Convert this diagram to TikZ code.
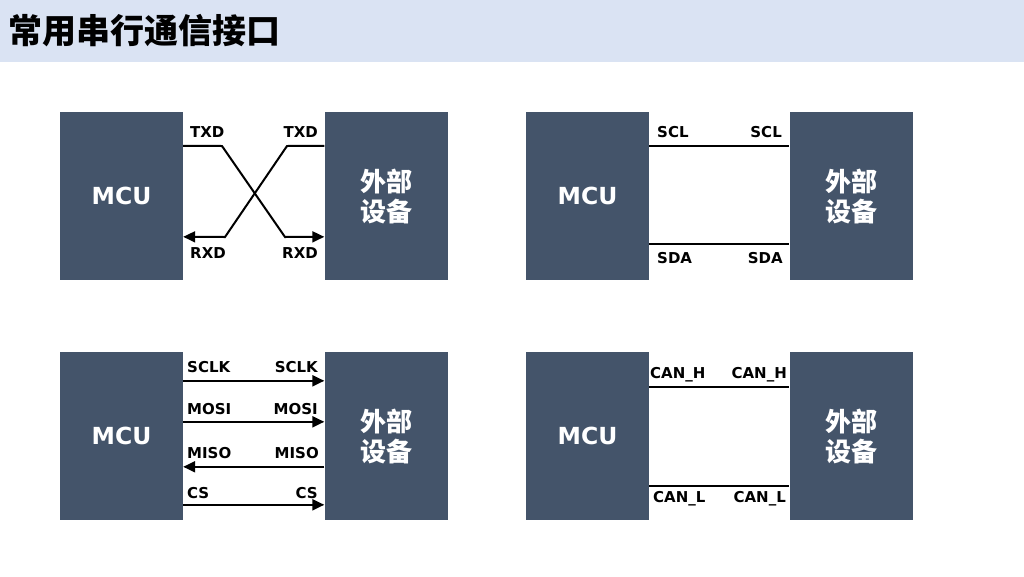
\documentclass[tikz,border=0pt]{standalone}
\usepackage{fontspec}
\setmainfont{DejaVu Sans}
\newfontfamily\cjk{Noto Sans CJK SC}
\usetikzlibrary{arrows.meta}
\definecolor{boxcol}{HTML}{44546A}
\definecolor{headcol}{HTML}{DAE3F3}
\tikzset{
  box/.style={fill=boxcol, draw=none, inner sep=0pt, minimum width=123pt, minimum height=168pt, text=white, font=\bfseries\fontsize{23.5}{28}\selectfont, align=center},
  dev/.style={box, font=\cjk\bfseries\fontsize{26}{30}\selectfont},
  sig/.style={draw=black, line width=2pt},
  arr/.style={sig, -{Triangle[length=12pt,width=11pt]}},
  lbl/.style={inner sep=0pt, font=\bfseries\fontsize{15}{16}\selectfont},
  lw/.style={lbl, anchor=base west},
  le/.style={lbl, anchor=base east},
}
\begin{document}
\begin{tikzpicture}[x=1pt,y=-1pt]
\useasboundingbox (0,0) rectangle (1024,576);
\fill[headcol] (0,0) rectangle (1024,62);
\node[anchor=west, inner sep=0pt, font=\cjk\bfseries\fontsize{34}{36}\selectfont] (title) at (8,31) {常用串行通信接口};

% --- UART
\node[box] (m1) at (121.5,196) {MCU};
\node[dev] (d1) at (386,196) {外部\\设备};
\draw[arr] ([yshift=-34pt]m1.north east) -- (222,146) -- (285,237) -- ([yshift=-125pt]d1.north west);
\draw[arr] ([yshift=-34pt]d1.north west) -- (287,146) -- (225,237) -- ([yshift=-125pt]m1.north east);
\node[lw] (t1a) at (190,137.5) {TXD};
\node[le] (t1b) at (318,137.5) {TXD};
\node[lw] (r1a) at (190,258.5) {RXD};
\node[le] (r1b) at (318,258.5) {RXD};

% --- I2C
\node[box] (m2) at (587.5,196) {MCU};
\node[dev] (d2) at (851,196) {外部\\设备};
\draw[sig] ([yshift=-34pt]m2.north east) -- ([yshift=-34pt]d2.north west);
\draw[sig] ([yshift=-132pt]m2.north east) -- ([yshift=-132pt]d2.north west);
\node[lw] (s2a) at (657,137.5) {SCL};
\node[le] (s2b) at (782,137.5) {SCL};
\node[lw] (a2a) at (657,263.5) {SDA};
\node[le] (a2b) at (783,263.5) {SDA};

% --- SPI
\node[box] (m3) at (121.5,436) {MCU};
\node[dev] (d3) at (386,436) {外部\\设备};
\draw[arr] ([yshift=-29pt]m3.north east) -- ([yshift=-29pt]d3.north west);
\draw[arr] ([yshift=-70pt]m3.north east) -- ([yshift=-70pt]d3.north west);
\draw[arr] ([yshift=-115pt]d3.north west) -- ([yshift=-115pt]m3.north east);
\draw[arr] ([yshift=-153pt]m3.north east) -- ([yshift=-153pt]d3.north west);
\node[lw] (k3a) at (187,372.5) {SCLK};
\node[le] (k3b) at (318,372.5) {SCLK};
\node[lw] (o3a) at (187,414.5) {MOSI};
\node[le] (o3b) at (318,414.5) {MOSI};
\node[lw] (i3a) at (187,458.5) {MISO};
\node[le] (i3b) at (319,458.5) {MISO};
\node[lw] (c3a) at (187,498.5) {CS};
\node[le] (c3b) at (318,498.5) {CS};

% --- CAN
\node[box] (m4) at (587.5,436) {MCU};
\node[dev] (d4) at (851,436) {外部\\设备};
\draw[sig] ([yshift=-35pt]m4.north east) -- ([yshift=-35pt]d4.north west);
\draw[sig] ([yshift=-134pt]m4.north east) -- ([yshift=-134pt]d4.north west);
\node[lw] (h4a) at (650,378.5) {CAN\_H};
\node[le] (h4b) at (787,378.5) {CAN\_H};
\node[lw] (l4a) at (653,502.5) {CAN\_L};
\node[le] (l4b) at (786,502.5) {CAN\_L};
\end{tikzpicture}
\end{document}
